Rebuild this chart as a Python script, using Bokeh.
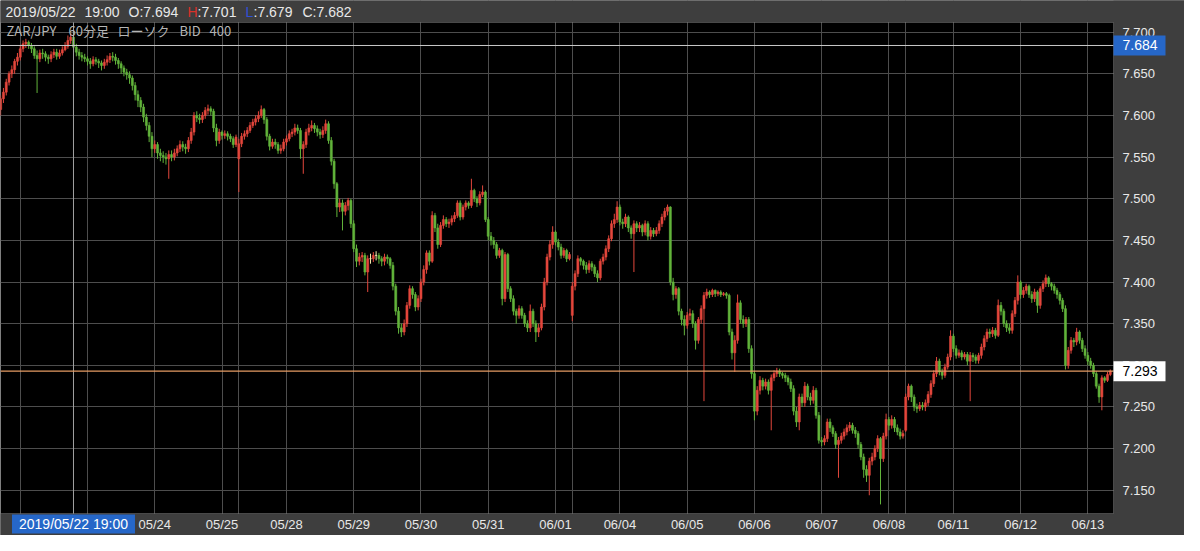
from bokeh.plotting import figure
from bokeh.models import Range1d, FixedTicker, Span, Grid, BoxAnnotation, ColumnDataSource
from bokeh.core.properties import value
from bokeh.embed import file_html
from bokeh.resources import INLINE

# ---------------- data ----------------
pair_title = "ZAR/JPY  60分足  ローソク  BID  400"
year = "2019"
# trading sessions (date label, first hour, end hour) of the 60-minute bars
sessions = [("05/21", 17, 24), ("05/22", 0, 24), ("05/23", 0, 24), ("05/24", 0, 24),
            ("05/25", 0, 6), ("05/27", 7, 24), ("05/28", 0, 24), ("05/29", 0, 24),
            ("05/30", 0, 24), ("05/31", 0, 24), ("06/01", 0, 6), ("06/03", 7, 24),
            ("06/04", 0, 24), ("06/05", 0, 24), ("06/06", 0, 24), ("06/07", 0, 24),
            ("06/08", 0, 6), ("06/10", 7, 24), ("06/11", 0, 24), ("06/12", 0, 24),
            ("06/13", 0, 9)]
shown_day_labels = ["05/24", "05/25", "05/28", "05/29", "05/30", "05/31", "06/01",
                    "06/04", "06/05", "06/06", "06/07", "06/08", "06/11", "06/12", "06/13"]
y_ticks = [7.150, 7.200, 7.250, 7.300, 7.350, 7.400, 7.450, 7.500, 7.550, 7.600, 7.650, 7.700]
crosshair_day, crosshair_hour = "05/22", 19
crosshair_price = 7.684

# prices in thousandths of a yen
open_k = [7607,7620,7628,7640,7650,7655,7665,7670,7680,7686,
 7688,7684,7680,7672,7668,7675,7674,7670,7668,7673,
 7676,7671,7675,7679,7683,7690,7694,7682,7676,7672,
 7670,7668,7665,7662,7667,7665,7663,7660,7664,7667,
 7671,7670,7666,7662,7657,7652,7649,7645,7636,7625,
 7618,7610,7598,7588,7575,7560,7565,7555,7552,7550,
 7548,7553,7550,7555,7560,7565,7562,7560,7570,7580,
 7600,7597,7595,7600,7606,7608,7605,7585,7570,7580,
 7576,7578,7575,7572,7565,7548,7566,7575,7578,7582,
 7588,7592,7596,7600,7607,7595,7575,7563,7568,7565,
 7558,7560,7568,7572,7578,7580,7585,7582,7560,7565,
 7580,7585,7588,7584,7580,7577,7582,7590,7570,7545,
 7518,7490,7495,7485,7492,7498,7470,7440,7425,7430,
 7432,7412,7428,7428,7432,7432,7428,7425,7430,7428,
 7420,7395,7365,7345,7340,7350,7372,7392,7385,7370,
 7380,7400,7415,7435,7425,7480,7465,7445,7468,7475,
 7470,7472,7476,7480,7495,7478,7490,7495,7492,7510,
 7500,7495,7505,7508,7475,7455,7450,7445,7432,7438,
 7380,7433,7392,7380,7365,7360,7368,7360,7350,7345,
 7365,7350,7340,7345,7370,7400,7430,7445,7460,7448,
 7442,7432,7438,7428,7360,7395,7410,7428,7425,7420,
 7415,7422,7418,7410,7405,7425,7430,7440,7452,7470,
 7475,7490,7472,7470,7478,7465,7458,7470,7465,7468,
 7460,7470,7455,7462,7458,7462,7470,7478,7485,7490,
 7400,7385,7392,7365,7355,7348,7360,7362,7350,7330,
 7355,7368,7384,7388,7385,7390,7386,7388,7385,7386,
 7384,7340,7315,7330,7375,7355,7350,7355,7320,7290,
 7245,7270,7282,7275,7280,7270,7285,7290,7293,7290,
 7288,7285,7280,7272,7245,7232,7262,7255,7275,7262,
 7258,7270,7240,7210,7208,7212,7232,7225,7218,7205,
 7210,7215,7220,7225,7228,7222,7218,7205,7190,7175,
 7168,7185,7190,7200,7212,7188,7215,7235,7228,7235,
 7225,7220,7215,7222,7262,7275,7262,7250,7248,7252,
 7250,7255,7265,7278,7290,7305,7292,7288,7298,7310,
 7335,7320,7312,7315,7310,7313,7305,7312,7310,7306,
 7312,7322,7332,7340,7338,7342,7336,7372,7365,7350,
 7345,7342,7362,7378,7400,7385,7390,7395,7385,7380,
 7388,7372,7392,7398,7405,7398,7395,7390,7385,7378,
 7368,7300,7318,7330,7328,7340,7330,7320,7312,7305,
 7300,7290,7275,7262,7285,7282,7289]
high_k = [7624,7633,7644,7653,7660,7668,7675,7684,7690,7692,
 7690,7687,7683,7678,7679,7680,7677,7673,7677,7680,
 7680,7679,7683,7688,7696,7699,7701,7686,7680,7676,
 7674,7671,7669,7671,7670,7668,7666,7668,7672,7675,
 7676,7674,7669,7665,7660,7656,7653,7648,7640,7630,
 7622,7614,7602,7592,7580,7570,7568,7560,7557,7555,
 7558,7558,7560,7564,7570,7569,7566,7574,7585,7604,
 7605,7602,7604,7610,7613,7611,7608,7590,7584,7582,
 7582,7581,7578,7575,7577,7572,7579,7582,7586,7592,
 7596,7600,7605,7612,7609,7598,7578,7572,7572,7568,
 7565,7572,7576,7582,7584,7590,7589,7585,7569,7584,
 7590,7594,7591,7588,7584,7587,7595,7593,7574,7548,
 7520,7500,7499,7496,7501,7500,7474,7445,7435,7436,
 7435,7432,7434,7436,7437,7435,7431,7434,7433,7430,
 7424,7398,7370,7350,7355,7376,7396,7395,7388,7384,
 7404,7420,7438,7438,7485,7483,7470,7472,7480,7478,
 7476,7480,7484,7498,7498,7493,7498,7497,7524,7512,
 7503,7509,7516,7510,7478,7460,7454,7448,7441,7440,
 7436,7435,7395,7384,7368,7372,7371,7363,7354,7373,
 7368,7354,7350,7374,7405,7434,7450,7467,7462,7452,
 7446,7441,7440,7436,7400,7414,7432,7430,7427,7424,
 7426,7425,7421,7414,7428,7434,7444,7456,7474,7482,
 7497,7493,7476,7482,7480,7468,7474,7473,7472,7470,
 7474,7473,7466,7465,7466,7474,7482,7489,7493,7491,
 7405,7395,7394,7368,7360,7364,7368,7366,7353,7358,
 7372,7388,7392,7390,7392,7391,7390,7390,7388,7388,
 7386,7344,7336,7385,7378,7360,7358,7358,7324,7293,
 7275,7287,7285,7284,7283,7289,7294,7297,7296,7292,
 7291,7288,7284,7276,7250,7266,7266,7280,7278,7267,
 7275,7273,7244,7214,7216,7236,7236,7228,7221,7214,
 7219,7224,7229,7232,7231,7226,7221,7208,7194,7180,
 7189,7195,7204,7216,7214,7219,7242,7238,7240,7238,
 7229,7224,7222,7266,7278,7277,7265,7254,7256,7256,
 7259,7269,7282,7294,7310,7308,7296,7302,7314,7342,
 7338,7324,7319,7318,7316,7316,7316,7315,7313,7315,
 7326,7336,7344,7344,7346,7345,7379,7376,7368,7354,
 7350,7366,7382,7408,7402,7394,7398,7397,7389,7392,
 7390,7395,7402,7409,7407,7400,7398,7393,7388,7381,
 7372,7322,7334,7333,7345,7342,7333,7324,7316,7309,
 7303,7293,7278,7288,7287,7292,7295]
low_k = [7600,7615,7624,7636,7645,7650,7660,7666,7676,7681,
 7680,7675,7668,7627,7664,7668,7665,7662,7664,7669,
 7667,7668,7672,7677,7680,7686,7679,7671,7667,7665,
 7664,7660,7656,7659,7661,7657,7654,7656,7660,7663,
 7665,7661,7656,7650,7647,7643,7638,7630,7618,7610,
 7604,7592,7582,7568,7550,7555,7548,7545,7543,7541,
 7524,7545,7546,7551,7556,7557,7554,7556,7566,7576,
 7592,7590,7591,7596,7601,7600,7580,7563,7566,7571,
 7572,7570,7568,7561,7562,7508,7562,7571,7574,7579,
 7585,7588,7592,7597,7590,7570,7558,7560,7560,7554,
 7554,7557,7564,7569,7574,7576,7578,7548,7530,7561,
 7576,7581,7579,7575,7572,7573,7578,7566,7540,7512,
 7478,7484,7462,7480,7486,7465,7436,7418,7420,7424,
 7408,7388,7422,7424,7426,7422,7419,7420,7422,7416,
 7390,7360,7338,7334,7336,7346,7368,7380,7365,7366,
 7376,7396,7410,7420,7423,7460,7440,7442,7464,7466,
 7465,7468,7472,7477,7474,7475,7486,7488,7489,7496,
 7490,7492,7502,7472,7450,7444,7440,7428,7429,7372,
 7376,7388,7376,7360,7350,7356,7356,7346,7340,7340,
 7346,7328,7334,7342,7366,7396,7426,7440,7444,7438,
 7428,7429,7424,7426,7353,7390,7406,7420,7415,7410,
 7411,7413,7406,7400,7402,7421,7426,7436,7449,7465,
 7471,7468,7464,7466,7460,7452,7412,7460,7460,7455,
 7456,7450,7451,7454,7455,7458,7466,7474,7480,7396,
 7378,7380,7360,7348,7336,7344,7354,7345,7319,7326,
 7350,7257,7380,7381,7382,7382,7383,7382,7383,7380,
 7336,7307,7292,7326,7350,7345,7346,7315,7284,7234,
 7240,7265,7270,7271,7265,7222,7281,7286,7286,7284,
 7280,7276,7268,7240,7226,7222,7250,7250,7258,7252,
 7254,7236,7206,7203,7204,7208,7220,7214,7200,7165,
 7206,7211,7216,7221,7218,7213,7200,7186,7165,7160,
 7144,7180,7186,7196,7133,7184,7211,7222,7224,7220,
 7216,7211,7212,7220,7258,7256,7245,7243,7245,7246,
 7245,7251,7261,7274,7286,7288,7283,7285,7295,7306,
 7316,7308,7309,7306,7307,7300,7257,7304,7302,7302,
 7308,7318,7328,7333,7334,7332,7334,7360,7346,7340,
 7338,7338,7358,7373,7380,7381,7386,7381,7375,7376,
 7363,7368,7388,7394,7394,7390,7386,7380,7373,7364,
 7295,7296,7314,7322,7324,7326,7316,7308,7300,7296,
 7286,7272,7255,7246,7279,7280,7287]
close_k = [7620,7628,7640,7650,7655,7665,7670,7680,7686,7688,
 7684,7680,7672,7668,7675,7674,7670,7668,7673,7676,
 7671,7675,7679,7683,7690,7694,7682,7676,7672,7670,
 7668,7665,7662,7667,7665,7663,7660,7664,7667,7671,
 7670,7666,7662,7657,7652,7649,7645,7636,7625,7618,
 7610,7598,7588,7575,7560,7565,7555,7552,7550,7548,
 7553,7550,7555,7560,7565,7562,7560,7570,7580,7600,
 7597,7595,7600,7606,7608,7605,7585,7570,7580,7576,
 7578,7575,7572,7565,7574,7566,7575,7578,7582,7588,
 7592,7596,7600,7607,7595,7575,7563,7568,7565,7558,
 7560,7568,7572,7578,7580,7585,7582,7560,7565,7580,
 7585,7588,7584,7580,7577,7582,7590,7570,7545,7518,
 7490,7495,7485,7492,7498,7470,7440,7425,7430,7432,
 7412,7428,7428,7432,7432,7428,7425,7430,7428,7420,
 7395,7365,7345,7340,7350,7372,7392,7385,7370,7380,
 7400,7415,7435,7425,7480,7465,7445,7468,7475,7470,
 7472,7476,7480,7495,7478,7490,7495,7492,7510,7500,
 7495,7505,7508,7475,7455,7450,7445,7432,7438,7380,
 7433,7392,7380,7365,7360,7368,7360,7350,7345,7365,
 7350,7340,7345,7370,7400,7430,7445,7460,7448,7442,
 7432,7438,7428,7433,7395,7410,7428,7425,7420,7415,
 7422,7418,7410,7405,7425,7430,7440,7452,7470,7475,
 7490,7472,7470,7478,7465,7458,7470,7465,7468,7460,
 7470,7455,7462,7458,7462,7470,7478,7485,7490,7400,
 7385,7392,7365,7355,7348,7360,7362,7350,7330,7355,
 7368,7384,7388,7385,7390,7386,7388,7385,7386,7384,
 7340,7315,7330,7375,7355,7350,7355,7320,7290,7245,
 7270,7282,7275,7280,7270,7285,7290,7293,7290,7288,
 7285,7280,7272,7245,7232,7262,7255,7275,7262,7258,
 7270,7240,7210,7208,7212,7232,7225,7218,7205,7210,
 7215,7220,7225,7228,7222,7218,7205,7190,7175,7168,
 7185,7190,7200,7212,7188,7215,7235,7228,7235,7225,
 7220,7215,7218,7262,7275,7262,7250,7248,7252,7250,
 7255,7265,7278,7290,7305,7292,7288,7298,7310,7335,
 7320,7312,7315,7310,7313,7305,7312,7310,7306,7312,
 7322,7332,7340,7338,7342,7336,7372,7365,7350,7345,
 7342,7362,7378,7400,7385,7390,7395,7385,7380,7388,
 7372,7392,7398,7405,7398,7395,7390,7385,7378,7368,
 7300,7318,7330,7328,7340,7330,7320,7312,7305,7300,
 7290,7275,7262,7285,7282,7289,7293]

# ---------------- build ----------------
opens = [v / 1000 for v in open_k]
highs = [v / 1000 for v in high_k]
lows = [v / 1000 for v in low_k]
closes = [v / 1000 for v in close_k]

bar_day, bar_hour, day_start = [], [], []
for day, h0, h1 in sessions:
    day_start.append((day, len(bar_day)))
    for h in range(h0, h1):
        bar_day.append(day)
        bar_hour.append(h)
n = len(bar_day)
assert n == len(opens) == len(highs) == len(lows) == len(closes)

UP, DOWN, DOJI = "#e4473c", "#62b43b", "#f3eeb0"
BORDER = "#3e3e3e"
TXT = "#e8e8e8"
FONT = "Liberation Sans"

# canvas layout (pixels)
W, H = 1184, 535
RIGHT, TOPB, BOTB = 71, 22, 22
PW, PH = W - RIGHT, H - TOPB - BOTB

# plot-area ranges in data units
xa, xb = -0.05, n + 0.15
ya, yb = 7.1221, 7.7116
kx = PW / (xb - xa)
ky = PH / (yb - ya)


def sx(px):
    return xa + px / kx


def sy(py):
    return yb + TOPB / ky - py / ky


p = figure(width=W, height=H, output_backend="svg", toolbar_location=None,
           x_range=Range1d(xa, sx(W)), y_range=Range1d(sy(H), sy(0)),
           x_axis_location=None, y_axis_location=None,
           min_border_left=0, min_border_right=0, min_border_top=0, min_border_bottom=0,
           background_fill_color="#000000", border_fill_color=BORDER,
           outline_line_color=None)
p.center = [r for r in p.center if not isinstance(r, Grid)]

grid_ticks = [i for d, i in day_start[1:]]
p.add_layout(Grid(dimension=0, ticker=FixedTicker(ticks=grid_ticks),
                  grid_line_color="#4d4d4d", grid_line_width=1))
p.add_layout(Grid(dimension=1, ticker=FixedTicker(ticks=y_ticks),
                  grid_line_color="#4d4d4d", grid_line_width=1))

colors = [UP if c > o else (DOWN if c < o else DOJI) for o, c in zip(opens, closes)]
src = ColumnDataSource(dict(
    x=list(range(n)), o=opens, h=highs, l=lows, c=closes,
    top=[max(o, c) for o, c in zip(opens, closes)],
    bottom=[min(o, c) for o, c in zip(opens, closes)],
    color=colors))

# candles
p.segment(x0="x", y0="l", x1="x", y1="h", line_color="color", line_width=1, source=src)
p.vbar(x="x", width=0.72, top="top", bottom="bottom", fill_color="color",
       line_color="color", line_width=0.6, source=src)

# crosshair and last price lines
cross_idx = next(i for i in range(n) if bar_day[i] == crosshair_day and bar_hour[i] == crosshair_hour)
last_price = closes[-1]
p.add_layout(Span(location=cross_idx, dimension="height", line_color="#a0a0a0", line_width=1))
p.add_layout(Span(location=crosshair_price, dimension="width", line_color="#c8c8c8", line_width=1))
p.add_layout(Span(location=last_price, dimension="width", line_color="#e59b63", line_width=1.2))

# grey side panels (header, right axis, bottom axis)
p.add_layout(BoxAnnotation(bottom=yb, fill_color=BORDER, fill_alpha=1, line_color=None))
p.add_layout(BoxAnnotation(left=xb, fill_color=BORDER, fill_alpha=1, line_color=None))
p.add_layout(BoxAnnotation(top=ya, fill_color=BORDER, fill_alpha=1, line_color=None))
# plot area outline
p.add_layout(BoxAnnotation(left=xa - 1, right=xb, bottom=ya, top=yb, fill_alpha=0,
                           line_color="#ababab", line_width=1))


def txt(xs, ys, texts, color=TXT, size="13px", align="left", font=FONT):
    r = p.text(x=xs, y=ys, text=texts, text_color=color, text_font=value(font),
               text_font_size=size, text_align=align, text_baseline="middle")
    r.level = "overlay"
    return r


def box(left, right, bottom, top, color):
    r = p.quad(left=[left], right=[right], bottom=[bottom], top=[top],
               fill_color=color, line_color=None)
    r.level = "overlay"
    return r


# y axis tick labels
txt([sx(PW + 9)] * len(y_ticks), y_ticks, [f"{v:.3f}" for v in y_ticks])
# x axis tick labels
xl = [(d, i) for d, i in day_start if d in shown_day_labels]
txt([i for d, i in xl], [sy(H - 11)] * len(xl), [d for d, i in xl], align="center")

# header line
o_, h_, l_, c_ = opens[cross_idx], highs[cross_idx], lows[cross_idx], closes[cross_idx]
header = [(f"{year}/{crosshair_day}", 5, TXT),
          (f"{crosshair_hour:02d}:00", 84, TXT),
          (f"O:{o_:.3f}", 128, TXT),
          ("H", 187, "#d8322a"),
          (f":{h_:.3f}", 197, TXT),
          ("L", 245, "#3050d8"),
          (f":{l_:.3f}", 253, TXT),
          (f"C:{c_:.3f}", 302, TXT)]
for t, px, col in header:
    txt([sx(px)], [sy(11)], [t], color=col, size="14px")

# instrument title inside the plot
title_parts = pair_title.split()
title_px = [6, 68, 117, 179, 209]
for t, px in zip(title_parts, title_px):
    txt([sx(px)], [sy(TOPB + 8)], [t], color="#b5b5b5", size="13px", font="Noto Sans CJK JP")

# crosshair time box on the x axis
box(cross_idx - 61.5 / kx, cross_idx + 61.5 / kx, sy(H - 2), sy(H - 21), "#2667c8")
txt([cross_idx], [sy(H - 11.5)],
    [f"{year}/{bar_day[cross_idx]} {bar_hour[cross_idx]:02d}:00"], color="#ffffff",
    size="14px", align="center")

# price boxes on the y axis
box(sx(PW), sx(PW + 52), crosshair_price - 10 / ky, crosshair_price + 10 / ky, "#2667c8")
txt([sx(PW + 9)], [crosshair_price], [f"{crosshair_price:.3f}"], color="#ffffff", size="14px")
box(sx(PW), sx(PW + 52), last_price - 10 / ky, last_price + 10 / ky, "#ffffff")
txt([sx(PW + 9)], [last_price], [f"{last_price:.3f}"], color="#000000", size="14px")

open("out.html", "w").write(file_html(p, INLINE))
